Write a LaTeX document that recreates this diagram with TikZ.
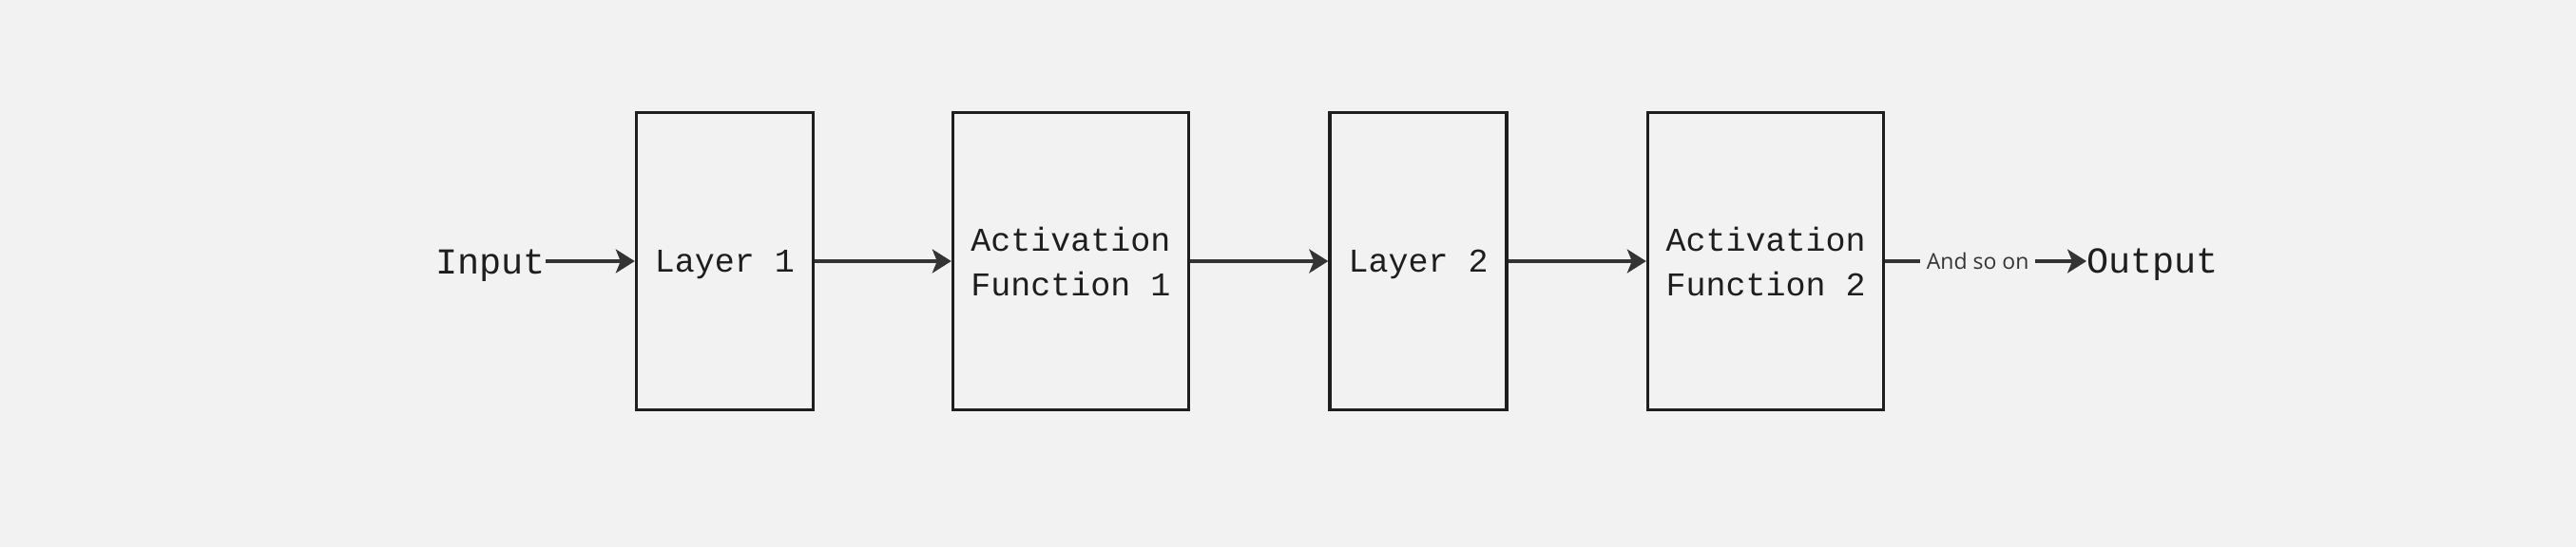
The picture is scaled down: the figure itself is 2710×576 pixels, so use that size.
\documentclass[tikz,border=0pt]{standalone}
\usepackage{fontspec}
\setmonofont{Liberation Mono}
\setsansfont{Open Sans}
\usetikzlibrary{arrows.meta}
\definecolor{canvas}{HTML}{F2F2F2}
\definecolor{ink}{HTML}{1E1E1E}
\definecolor{wire}{HTML}{343434}

\begin{document}
\begin{tikzpicture}[x=1pt, y=1pt,
  unit/.style={draw=ink, line width=3.4pt, minimum width=186pt, minimum height=313pt,
    inner sep=0pt, font=\ttfamily\fontsize{35}{47}\selectfont, text=ink, align=center},
  layer/.style={unit, text depth=0pt},
  act/.style={unit, minimum width=248pt},
  term/.style={inner sep=0pt, font=\ttfamily\fontsize{38.5}{46}\selectfont, text=ink},
  link/.style={draw=wire, line width=3.2pt, -{Stealth[length=20pt, width=25pt, inset=5pt]}}]
\fill[canvas] (0,0) rectangle (2710,576);
\node[layer] (l1) at (762.5,301) {Layer 1};
\node[act] (a1) at (1126.5,301) {Activation\\Function 1};
\node[layer] (l2) at (1492,301) {Layer 2};
\node[act] (a2) at (1857.5,301) {Activation\\Function 2};
\node[term, anchor=base east] (in) at (574,287) {Input};
\node[term, anchor=base west] (out) at (2195,288) {Output};
\draw[link] (in.east |- l1.west) -- (l1.west);
\draw[link] (l1.east) -- (a1.west);
\draw[link] (a1.east) -- (l2.west);
\draw[link] (l2.east) -- (a2.west);
\draw[link] (a2.east) -- node[pos=0.46, fill=canvas, inner xsep=7pt, text=wire,
  font=\sffamily\fontsize{23}{28}\selectfont] (more) {And so on} (out.west |- a2.east);
\path (0,0) rectangle (2710,576);
\end{tikzpicture}
\end{document}
